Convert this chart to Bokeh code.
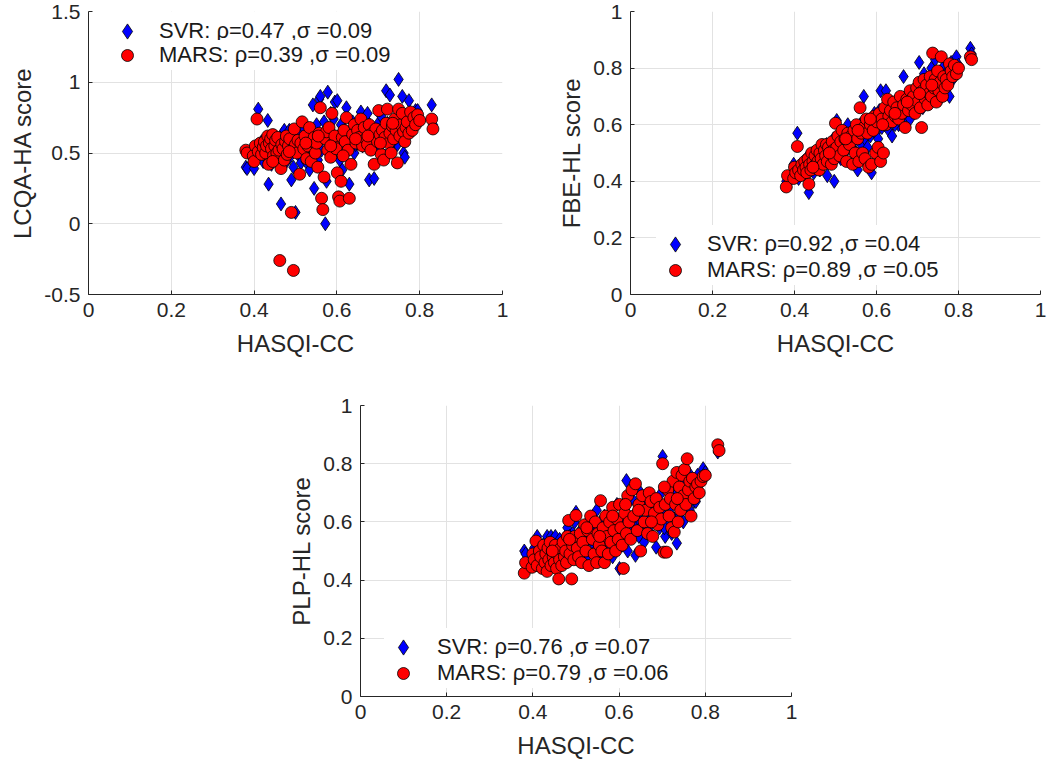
from bokeh.plotting import figure
from bokeh.layouts import row, column, Spacer
from bokeh.models import Range1d, FixedTicker, Legend, LegendItem
from bokeh.embed import file_html
from bokeh.resources import INLINE

# ---------------- data ----------------
hasqi_cc = [
    0.380, 0.383, 0.398, 0.400, 0.403, 0.407, 0.410, 0.415, 0.418, 0.422,
    0.425, 0.428, 0.430, 0.433, 0.435, 0.437, 0.440, 0.442, 0.445, 0.447,
    0.450, 0.452, 0.455, 0.457, 0.460, 0.462, 0.465, 0.467, 0.470, 0.473,
    0.476, 0.478, 0.480, 0.483, 0.486, 0.490, 0.492, 0.495, 0.497, 0.500,
    0.503, 0.506, 0.510, 0.513, 0.516, 0.520, 0.523, 0.527, 0.530, 0.534,
    0.538, 0.542, 0.545, 0.548, 0.551, 0.554, 0.557, 0.560, 0.563, 0.566,
    0.569, 0.572, 0.575, 0.578, 0.581, 0.585, 0.588, 0.592, 0.595, 0.598,
    0.601, 0.604, 0.607, 0.610, 0.613, 0.617, 0.620, 0.623, 0.627, 0.630,
    0.634, 0.638, 0.642, 0.646, 0.650, 0.654, 0.658, 0.662, 0.666, 0.670,
    0.674, 0.678, 0.682, 0.686, 0.690, 0.694, 0.698, 0.701, 0.704, 0.707,
    0.710, 0.713, 0.716, 0.719, 0.722, 0.725, 0.728, 0.731, 0.734, 0.737,
    0.740, 0.743, 0.746, 0.749, 0.752, 0.755, 0.758, 0.761, 0.764, 0.767,
    0.770, 0.774, 0.778, 0.782, 0.786, 0.790, 0.795, 0.800, 0.829, 0.832,
    0.445, 0.485, 0.525, 0.555, 0.585, 0.615, 0.645, 0.675, 0.705, 0.735,
]

lcqa_svr = [
    0.40, 0.39, 0.46, 0.39, 0.52, 0.55, 0.81, 0.48, 0.58, 0.44,
    0.53, 0.47, 0.60, 0.73, 0.28, 0.50, 0.56, 0.42, 0.62, 0.51,
    0.45, 0.58, 0.52, 0.60, 0.48, 0.55, 0.14, 0.63, 0.50, 0.66,
    0.57, 0.44, 0.61, 0.53, 0.47, 0.31, 0.58, 0.40, 0.64, 0.08,
    0.55, 0.49, 0.62, 0.43, 0.57, 0.68, 0.51, 0.46, 0.60, 0.38,
    0.64, 0.84, 0.25, 0.55, 0.70, 0.45, 0.88, 0.90, 0.52, 0.61,
    0.72, 0.00, 0.30, 0.93, 0.58, 0.66, 0.48, 0.74, 0.86, 0.55,
    0.87, 0.62, 0.45, 0.70, 0.38, 0.58, 0.66, 0.82, 0.54, 0.28,
    0.60, 0.72, 0.50, 0.63, 0.57, 0.68, 0.79, 0.55, 0.64, 0.74,
    0.78, 0.31, 0.60, 0.67, 0.32, 0.57, 0.70, 0.62, 0.52, 0.76,
    0.58, 0.66, 0.48, 0.94, 0.71, 0.63, 0.91, 0.55, 0.68, 0.60,
    0.73, 0.64, 0.56, 1.02, 0.69, 0.78, 0.90, 0.50, 0.47, 0.66,
    0.62, 0.87, 0.72, 0.68, 0.76, 0.80, 0.80, 0.74, 0.84, 0.70,
    0.48, 0.66, 0.44, 0.62, 0.78, 0.50, 0.56, 0.69, 0.64, 0.58,
]
lcqa_mars = [
    0.52, 0.50, 0.48, 0.44, 0.55, 0.74, 0.51, 0.57, 0.49, 0.54,
    0.58, 0.50, 0.55, 0.62, 0.42, 0.57, 0.60, 0.53, 0.63, 0.48,
    0.55, 0.59, 0.50, 0.61, 0.52, -0.26, 0.39, 0.56, 0.53, 0.45,
    0.58, 0.62, 0.49, 0.55, 0.60, 0.08, 0.52, -0.33, 0.67, 0.56,
    0.50, 0.59, 0.35, 0.57, 0.72, 0.53, 0.62, 0.46, 0.55, 0.68,
    0.44, 0.58, 0.61, 0.50, 0.57, 0.40, 0.64, 0.82, 0.18, 0.10,
    0.33, 0.60, 0.65, 0.52, 0.68, 0.47, 0.78, 0.57, 0.62, 0.53,
    0.36, 0.19, 0.16, 0.30, 0.61, 0.66, 0.58, 0.75, 0.52, 0.18,
    0.42, 0.63, 0.70, 0.57, 0.66, 0.61, 0.74, 0.55, 0.68, 0.60,
    0.56, 0.70, 0.52, 0.64, 0.42, 0.67, 0.58, 0.80, 0.63, 0.49,
    0.66, 0.45, 0.61, 0.71, 0.81, 0.57, 0.64, 0.50, 0.69, 0.60,
    0.74, 0.66, 0.43, 0.81, 0.62, 0.70, 0.78, 0.65, 0.58, 0.68,
    0.72, 0.64, 0.79, 0.66, 0.75, 0.70, 0.77, 0.73, 0.74, 0.67,
    0.44, 0.51, 0.57, 0.62, 0.55, 0.48, 0.60, 0.62, 0.57, 0.71,
]

fbe_svr = [
    0.40, 0.39, 0.46, 0.42, 0.44, 0.57, 0.41, 0.45, 0.43, 0.47,
    0.44, 0.42, 0.46, 0.49, 0.36, 0.44, 0.48, 0.45, 0.50, 0.43,
    0.47, 0.50, 0.45, 0.48, 0.51, 0.44, 0.49, 0.52, 0.46, 0.50,
    0.48, 0.53, 0.42, 0.50, 0.47, 0.52, 0.49, 0.55, 0.40, 0.51,
    0.615, 0.50, 0.54, 0.48, 0.56, 0.52, 0.57, 0.51, 0.60, 0.55,
    0.52, 0.57, 0.54, 0.59, 0.50, 0.44, 0.56, 0.60, 0.53, 0.58,
    0.70, 0.55, 0.61, 0.52, 0.58, 0.56, 0.43, 0.60, 0.64, 0.57,
    0.62, 0.55, 0.65, 0.72, 0.59, 0.63, 0.60, 0.72, 0.66, 0.58,
    0.64, 0.56, 0.67, 0.62, 0.69, 0.60, 0.65, 0.68, 0.77, 0.63,
    0.66, 0.70, 0.62, 0.68, 0.72, 0.65, 0.69, 0.74, 0.82, 0.67,
    0.71, 0.66, 0.78, 0.70, 0.73, 0.68, 0.75, 0.72, 0.80, 0.74,
    0.70, 0.83, 0.76, 0.72, 0.78, 0.69, 0.74, 0.80, 0.71, 0.77,
    0.75, 0.79, 0.70, 0.82, 0.76, 0.78, 0.84, 0.81, 0.87, 0.85,
    0.46, 0.51, 0.53, 0.57, 0.61, 0.64, 0.60, 0.71, 0.70, 0.77,
]
fbe_mars = [
    0.38, 0.42, 0.41, 0.45, 0.43, 0.523, 0.44, 0.42, 0.46, 0.44,
    0.47, 0.45, 0.43, 0.48, 0.39, 0.46, 0.44, 0.50, 0.47, 0.45,
    0.49, 0.46, 0.51, 0.47, 0.44, 0.50, 0.48, 0.53, 0.46, 0.51,
    0.49, 0.53, 0.47, 0.52, 0.50, 0.46, 0.54, 0.51, 0.48, 0.605,
    0.52, 0.56, 0.49, 0.54, 0.58, 0.51, 0.55, 0.47, 0.57, 0.53,
    0.56, 0.46, 0.58, 0.50, 0.60, 0.55, 0.47, 0.66, 0.57, 0.50,
    0.59, 0.48, 0.62, 0.57, 0.45, 0.60, 0.46, 0.58, 0.63, 0.50,
    0.61, 0.52, 0.64, 0.47, 0.62, 0.50, 0.66, 0.60, 0.69, 0.63,
    0.65, 0.61, 0.68, 0.63, 0.66, 0.62, 0.70, 0.64, 0.67, 0.59,
    0.69, 0.65, 0.72, 0.67, 0.70, 0.64, 0.73, 0.68, 0.75, 0.66,
    0.59, 0.72, 0.76, 0.69, 0.74, 0.67, 0.71, 0.77, 0.70, 0.853,
    0.73, 0.76, 0.68, 0.79, 0.72, 0.75, 0.84, 0.70, 0.77, 0.73,
    0.76, 0.74, 0.815, 0.79, 0.77, 0.81, 0.78, 0.80, 0.84, 0.83,
    0.45, 0.50, 0.55, 0.58, 0.62, 0.60, 0.64, 0.68, 0.71, 0.74,
]

plp_svr = [
    0.50, 0.49, 0.47, 0.45, 0.51, 0.48, 0.55, 0.46, 0.52, 0.49,
    0.47, 0.53, 0.50, 0.55, 0.46, 0.52, 0.49, 0.55, 0.48, 0.54,
    0.51, 0.55, 0.47, 0.52, 0.49, 0.54, 0.46, 0.50, 0.53, 0.48,
    0.55, 0.50, 0.58, 0.47, 0.53, 0.49, 0.56, 0.52, 0.60, 0.633,
    0.54, 0.50, 0.57, 0.47, 0.55, 0.52, 0.59, 0.49, 0.56, 0.61,
    0.53, 0.58, 0.50, 0.64, 0.55, 0.47, 0.60, 0.52, 0.57, 0.62,
    0.54, 0.59, 0.50, 0.63, 0.56, 0.48, 0.61, 0.53, 0.66, 0.57,
    0.44, 0.60, 0.52, 0.65, 0.57, 0.742, 0.50, 0.62, 0.56, 0.68,
    0.59, 0.485, 0.64, 0.55, 0.70, 0.60, 0.53, 0.66, 0.58, 0.63,
    0.56, 0.68, 0.61, 0.513, 0.65, 0.58, 0.70, 0.825, 0.62, 0.55,
    0.66, 0.59, 0.72, 0.63, 0.56, 0.69, 0.61, 0.75, 0.527, 0.67,
    0.62, 0.71, 0.65, 0.60, 0.74, 0.68, 0.656, 0.77, 0.64, 0.70,
    0.73, 0.67, 0.67, 0.76, 0.70, 0.74, 0.783, 0.77, 0.84, 0.85,
    0.52, 0.55, 0.48, 0.58, 0.62, 0.55, 0.61, 0.64, 0.58, 0.70,
]
plp_mars = [
    0.424, 0.46, 0.444, 0.49, 0.47, 0.534, 0.45, 0.50, 0.48, 0.44,
    0.52, 0.46, 0.49, 0.43, 0.51, 0.47, 0.53, 0.45, 0.50, 0.48,
    0.46, 0.52, 0.44, 0.49, 0.404, 0.47, 0.51, 0.45, 0.53, 0.48,
    0.50, 0.46, 0.55, 0.605, 0.49, 0.404, 0.52, 0.47, 0.55, 0.622,
    0.51, 0.48, 0.56, 0.46, 0.53, 0.59, 0.50, 0.57, 0.45, 0.62,
    0.54, 0.49, 0.60, 0.46, 0.56, 0.52, 0.673, 0.50, 0.58, 0.46,
    0.62, 0.55, 0.49, 0.60, 0.53, 0.65, 0.57, 0.50, 0.61, 0.54,
    0.66, 0.58, 0.52, 0.44, 0.63, 0.56, 0.69, 0.60, 0.54, 0.71,
    0.62, 0.731, 0.57, 0.66, 0.50, 0.69, 0.60, 0.64, 0.56, 0.70,
    0.67, 0.55, 0.63, 0.68, 0.59, 0.65, 0.61, 0.80, 0.496, 0.66,
    0.496, 0.71, 0.62, 0.68, 0.58, 0.74, 0.565, 0.66, 0.77, 0.60,
    0.72, 0.64, 0.76, 0.69, 0.78, 0.66, 0.817, 0.71, 0.74, 0.62,
    0.75, 0.68, 0.72, 0.73, 0.70, 0.74, 0.756, 0.76, 0.865, 0.845,
    0.50, 0.54, 0.58, 0.55, 0.62, 0.66, 0.64, 0.60, 0.72, 0.68,
]

x_ticks = [0, 0.2, 0.4, 0.6, 0.8, 1]
x_tick_labels = ["0", "0.2", "0.4", "0.6", "0.8", "1"]
y_ticks_lcqa = [-0.5, 0, 0.5, 1, 1.5]
y_tick_labels_lcqa = ["-0.5", "0", "0.5", "1", "1.5"]
y_ticks_hl = [0, 0.2, 0.4, 0.6, 0.8, 1]
y_tick_labels_hl = ["0", "0.2", "0.4", "0.6", "0.8", "1"]

x_label = "HASQI-CC"
y_labels = ["LCQA-HA score", "FBE-HL score", "PLP-HL score"]
legend_svr = ["SVR: \u03c1=0.47 ,\u03c3 =0.09", "SVR: \u03c1=0.92 ,\u03c3 =0.04", "SVR: \u03c1=0.76 ,\u03c3 =0.07"]
legend_mars = ["MARS: \u03c1=0.39 ,\u03c3 =0.09", "MARS: \u03c1=0.89 ,\u03c3 =0.05", "MARS: \u03c1=0.79 ,\u03c3 =0.06"]

FONT = "Liberation Sans"
TXT = "#262626"


def one_legend(label, renderer, loc, box, standoff):
    lg = Legend(items=[LegendItem(label=label, renderers=[renderer])],
                location=loc)
    lg.background_fill_color = "white"
    lg.background_fill_alpha = 1.0
    lg.border_line_color = None
    lg.padding = 0
    lg.margin = 0
    lg.spacing = 0
    lg.glyph_width = box
    lg.glyph_height = box
    lg.label_height = 20
    lg.label_standoff = standoff
    lg.label_text_font = FONT
    lg.label_text_font_size = "22px"
    lg.label_text_color = "#1a1a1a"
    return lg


def make_panel(svr, mars, ylab, yticks, ylabels, yr, lsvr, lmars,
               loc_svr, loc_mars, st_svr, st_mars,
               fw, fh, bl, br, bt, bb):
    p = figure(frame_width=fw, frame_height=fh,
               x_range=Range1d(0, 1), y_range=Range1d(*yr),
               output_backend="svg", toolbar_location=None,
               min_border_left=bl, min_border_right=br,
               min_border_top=bt, min_border_bottom=bb,
               background_fill_color="white", border_fill_color="white")
    p.outline_line_color = None
    p.xaxis.ticker = FixedTicker(ticks=x_ticks)
    p.xaxis.major_label_overrides = dict(zip(x_ticks, x_tick_labels))
    p.yaxis.ticker = FixedTicker(ticks=yticks)
    p.yaxis.major_label_overrides = dict(zip(yticks, ylabels))
    p.xaxis.axis_label = x_label
    p.yaxis.axis_label = ylab
    for ax in (p.xaxis[0], p.yaxis[0]):
        ax.axis_line_color = TXT
        ax.axis_line_width = 1
        ax.major_tick_line_color = TXT
        ax.major_tick_in = 4
        ax.major_tick_out = 0
        ax.minor_tick_line_color = None
        ax.major_label_text_font = FONT
        ax.major_label_text_font_size = "21px"
        ax.major_label_text_color = TXT
        ax.axis_label_text_font = FONT
        ax.axis_label_text_font_size = "24px"
        ax.axis_label_text_font_style = "normal"
        ax.axis_label_text_color = TXT
        ax.major_label_standoff = 8
    p.xaxis.axis_label_standoff = 10
    p.yaxis.axis_label_standoff = 5
    p.grid.grid_line_color = "#e2e2e2"
    p.grid.grid_line_width = 1
    p.xgrid.ticker = FixedTicker(ticks=x_ticks)
    p.ygrid.ticker = FixedTicker(ticks=yticks)

    r_svr = p.scatter(hasqi_cc, svr, marker="diamond", size=14, fill_color="#0000FF",
                      line_color="black", line_width=0.8)
    r_mars = p.scatter(hasqi_cc, mars, marker="circle", size=12, fill_color="#FF0000",
                       line_color="black", line_width=0.8)

    p.add_layout(one_legend(lsvr, r_svr, loc_svr, 38, st_svr))
    p.add_layout(one_legend(lmars, r_mars, loc_mars, 30, st_mars))
    return p


p1 = make_panel(lcqa_svr, lcqa_mars, y_labels[0], y_ticks_lcqa, y_tick_labels_lcqa,
                (-0.5, 1.5), legend_svr[0], legend_mars[0],
                (20, 244), (24, 224), 13, 17,
                414, 283, 88, 48, 11, 80)
p2 = make_panel(fbe_svr, fbe_mars, y_labels[1], y_ticks_hl, y_tick_labels_hl,
                (0, 1), legend_svr[1], legend_mars[1],
                (26, 31), (30, 9), 13, 17,
                410, 283, 80, 7, 11, 80)
p3 = make_panel(plp_svr, plp_mars, y_labels[2], y_ticks_hl, y_tick_labels_hl,
                (0, 1), legend_svr[2], legend_mars[2],
                (24, 30), (28, 8), 15, 19,
                431, 291, 80, 10, 31, 72)

layout = column(row(p1, p2), row(Spacer(width=280, height=10), p3))

open("out.html", "w").write(file_html(layout, INLINE))
